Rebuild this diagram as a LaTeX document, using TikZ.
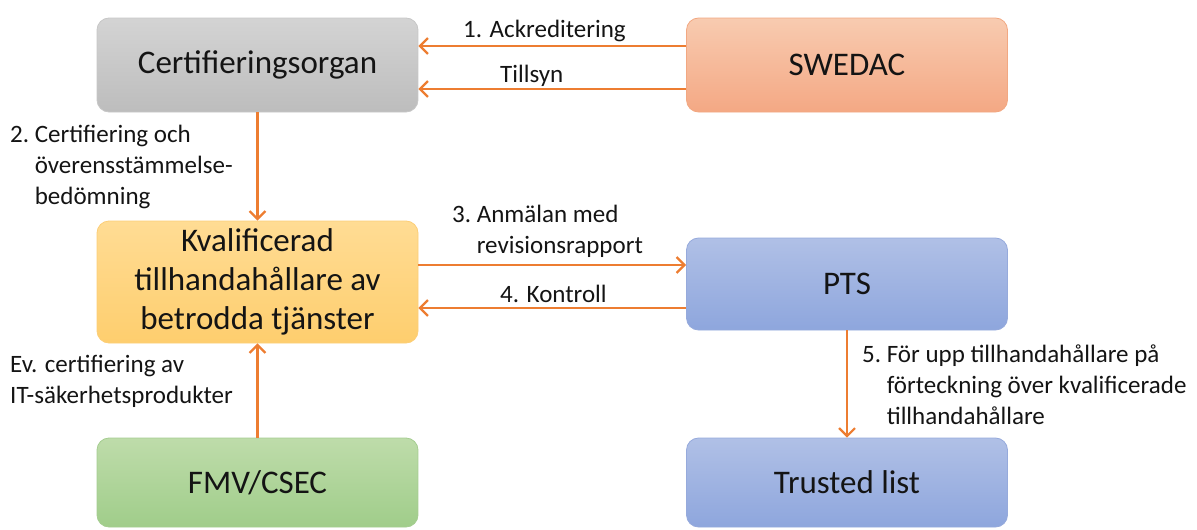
\documentclass[tikz,border=0pt]{standalone}
\usepackage{fontspec}
\setmainfont{Carlito}
\usetikzlibrary{arrows.meta}
\definecolor{arrc}{HTML}{ED7D31}
\definecolor{txt}{HTML}{141414}
\tikzset{
  box/.style={draw, line width=0.8pt, rounded corners=12pt, minimum width=321pt, align=center,
    text=txt, font=\fontsize{33}{39}\selectfont, inner sep=0pt},
  arr/.style={draw=arrc, line width=2.4pt, -{Straight Barb[length=8pt,width=16pt,line width=2.2pt]}},
  lbl/.style={text=txt, font=\fontsize{25}{31}\selectfont, inner sep=0pt, align=left}
}
\begin{document}
\begin{tikzpicture}[x=1pt,y=-1pt]
\useasboundingbox (0,0) rectangle (1197,530);
\node[box, minimum height=94pt, top color=black!17, bottom color=black!26, draw=black!22] (cert) at (257.5,65) {Certifieringsorgan};
\node[box, minimum height=94pt, top color={rgb,255:red,248;green,203;blue,176}, bottom color={rgb,255:red,244;green,168;blue,132}, draw={rgb,255:red,242;green,168;blue,130}] (swedac) at (847,65) {SWEDAC};
\node[box, minimum height=122pt, top color={rgb,255:red,255;green,220;blue,148}, bottom color={rgb,255:red,254;green,206;blue,110}, draw={rgb,255:red,252;green,206;blue,120}] (kval) at (257.5,282) {Kvalificerad\\tillhandahållare av\\betrodda tjänster};
\node[box, minimum height=92pt, top color={rgb,255:red,176;green,192;blue,230}, bottom color={rgb,255:red,142;green,166;blue,221}, draw={rgb,255:red,150;green,170;blue,220}] (pts) at (847,284) {PTS};
\node[box, minimum height=89pt, top color={rgb,255:red,190;green,220;blue,170}, bottom color={rgb,255:red,160;green,205;blue,138}, draw={rgb,255:red,165;green,205;blue,145}] (fmv) at (257.5,482.5) {FMV/CSEC};
\node[box, minimum height=89pt, top color={rgb,255:red,176;green,192;blue,230}, bottom color={rgb,255:red,142;green,166;blue,221}, draw={rgb,255:red,150;green,170;blue,220}] (trusted) at (847,482.5) {Trusted list};

\draw[arr] (swedac.west |- 0,46) -- (cert.east |- 0,46);
\draw[arr] (swedac.west |- 0,89) -- (cert.east |- 0,89);
\draw[arr] (cert.south) -- (kval.north);
\draw[arr] (kval.east |- 0,265) -- (pts.west |- 0,265);
\draw[arr] (pts.west |- 0,308) -- (kval.east |- 0,308);
\draw[arr] (pts.south) -- (trusted.north);
\draw[arr] (fmv.north) -- (kval.south);

\node[lbl, anchor=west] (l1) at (463,31) {1. Ackreditering};
\node[lbl, anchor=west] (lt) at (500,76) {Tillsyn};
\node[lbl, anchor=north west] (l2) at (10,125) {2.~Certifiering och\\\hphantom{2.~}överensstämmelse-\\\hphantom{2.~}bedömning};
\node[lbl, anchor=north west] (l3) at (452,205) {3.~Anmälan med\\\hphantom{3.~}revisionsrapport};
\node[lbl, anchor=west] (l4) at (500,294) {4. Kontroll};
\node[lbl, anchor=north west] (l5) at (862,345) {5.~För upp tillhandahållare på\\\hphantom{5.~}förteckning över kvalificerade\\\hphantom{5.~}tillhandahållare};
\node[lbl, anchor=north west] (lev) at (10,355) {Ev. certifiering av\\IT-säkerhetsprodukter};
\end{tikzpicture}
\end{document}
